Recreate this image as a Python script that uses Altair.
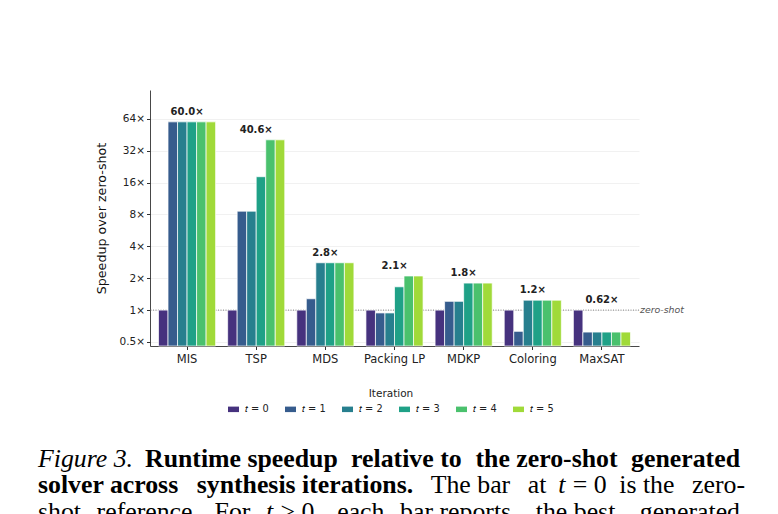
import altair as alt
import pandas as pd

TASKS = ["MIS", "TSP", "MDS", "Packing LP", "MDKP", "Coloring", "MaxSAT"]
ITERS = ["𝑡 = 0", "𝑡 = 1", "𝑡 = 2", "𝑡 = 3", "𝑡 = 4", "𝑡 = 5"]
COLORS = ["#46327e", "#365c8d", "#277f8e", "#1fa187", "#4ac16d", "#a0da39"]

# speedup over the zero-shot solver, one list per iteration (order of TASKS)
T0 = [1.0, 1.0, 1.0, 1.0, 1.0, 1.0, 1.0]
T1 = [60.0, 8.6, 1.28, 0.94, 1.21, 0.63, 0.62]
T2 = [60.0, 8.6, 2.8, 0.94, 1.21, 1.24, 0.62]
T3 = [60.0, 18.2, 2.8, 1.66, 1.8, 1.24, 0.62]
T4 = [60.0, 40.6, 2.8, 2.1, 1.8, 1.24, 0.62]
T5 = [60.0, 40.6, 2.8, 2.1, 1.8, 1.24, 0.62]
FINAL_LABELS = ["60.0×", "40.6×", "2.8×", "2.1×", "1.8×", "1.2×", "0.62×"]
Y_TICKS = [0.5, 1, 2, 4, 8, 16, 32, 64]

# caption below the figure (justified text, split into chunks)
CAP1 = ["Figure 3.", "Runtime speedup", "relative to", "the zero-shot", "generated"]
CAP2 = ["solver across", "synthesis iterations.", "The bar", "at", "t", "= 0",
        "is the", "zero-"]
CAP3 = ["shot", "reference.", "For", "t", "> 0,", "each", "bar reports",
        "the best", "generated"]

W, H = 489, 256
Y_MIN, Y_MAX = 0.458, 120

rows = []
for it, vals in zip(ITERS, [T0, T1, T2, T3, T4, T5]):
    for task, v in zip(TASKS, vals):
        rows.append({"task": task, "iter": it, "speedup": v})
bars_df = pd.DataFrame(rows)

tops = bars_df.groupby("task")["speedup"].max()
labels_df = pd.DataFrame(
    {"task": TASKS, "top": [tops[t] for t in TASKS], "label": FINAL_LABELS}
)

x_enc = alt.X(
    "task:N",
    sort=TASKS,
    scale=alt.Scale(paddingInner=0.174, paddingOuter=0.123),
    axis=alt.Axis(title=None, labelAngle=0, labelFontSize=11.5, labelPadding=4),
)
y_scale = alt.Scale(type="log", domain=[Y_MIN, Y_MAX], clamp=True)

bars = (
    alt.Chart(bars_df)
    .mark_bar(stroke="white", strokeWidth=0.7)
    .encode(
        x=x_enc,
        xOffset=alt.XOffset("iter:N", sort=ITERS, scale=alt.Scale(paddingInner=0)),
        y=alt.Y(
            "speedup:Q",
            scale=y_scale,
            axis=alt.Axis(
                title="Speedup over zero-shot",
                values=Y_TICKS,
                labelExpr="datum.value + '×'",
                labelFontSize=10.5,
                titleFontSize=12.7,
                titleFontWeight="normal",
                titlePadding=11,
                grid=True,
            ),
        ),
        y2=alt.datum(Y_MIN),
        color=alt.Color(
            "iter:N",
            sort=ITERS,
            scale=alt.Scale(domain=ITERS, range=COLORS),
            legend=alt.Legend(
                title="Iteration",
                orient="none",
                direction="horizontal",
                legendX=78,
                legendY=299,
                titleAnchor="middle",
                titleFontSize=10.5,
                titleFontWeight="normal",
                titlePadding=4,
                labelFontSize=9.8,
                symbolType="M-1,-0.5H1V0.5H-1Z",
                symbolSize=121,
                symbolStrokeWidth=0,
                symbolOpacity=1,
                columnPadding=16,
                labelOffset=6,
            ),
        ),
    )
)

zero_df = pd.DataFrame({"y": [1.0], "name": ["zero-shot"]})
zero_rule = (
    alt.Chart(zero_df)
    .mark_rule(color="#777777", strokeWidth=0.9, strokeDash=[1, 1.5])
    .encode(y=alt.Y("y:Q", scale=y_scale))
)
zero_text = (
    alt.Chart(zero_df)
    .mark_text(align="left", baseline="middle", fontStyle="italic", fontSize=9.4,
               color="#555555", dx=1)
    .encode(x=alt.value(W), y=alt.Y("y:Q", scale=y_scale), text="name:N")
)

final_labels = (
    alt.Chart(labels_df)
    .mark_text(fontWeight="bold", fontSize=10, baseline="middle", dy=-10,
               color="#222222")
    .encode(x=alt.X("task:N", sort=TASKS), y=alt.Y("top:Q", scale=y_scale),
            text="label:N")
)


def caption(txt, x, y, align="left", **style):
    return (
        alt.Chart(pd.DataFrame({"c": [txt]}))
        .mark_text(font="Liberation Serif", fontSize=25.8, align=align,
                   baseline="alphabetic", color="black", **style)
        .encode(x=alt.value(x - 150), y=alt.value(y - 90), text="c:N")
    )


# positions below are page pixels, shifted to the plot origin in caption()
L1, L2, L3 = 466.7, 493.4, 520.1
BF = {"fontWeight": "bold"}
IT = {"fontStyle": "italic"}
cap = [
    caption(CAP1[0], 38, L1, **IT),
    caption(CAP1[1], 145, L1, **BF),
    caption(CAP1[2], 351.1, L1, **BF),
    caption(CAP1[3], 475.5, L1, **BF),
    caption(CAP1[4], 740, L1, align="right", **BF),
    caption(CAP2[0], 38, L2, **BF),
    caption(CAP2[1], 196.7, L2, **BF),
    caption(CAP2[2], 430.7, L2),
    caption(CAP2[3], 527.7, L2),
    caption(CAP2[4], 558.3, L2, **IT),
    caption(CAP2[5], 572.7, L2),
    caption(CAP2[6], 619.3, L2),
    caption(CAP2[7], 745, L2, align="right"),
    caption(CAP3[0], 38, L3),
    caption(CAP3[1], 96.6, L3),
    caption(CAP3[2], 214.6, L3),
    caption(CAP3[3], 266, L3, **IT),
    caption(CAP3[4], 280.4, L3),
    caption(CAP3[5], 337.2, L3),
    caption(CAP3[6], 400.1, L3),
    caption(CAP3[7], 535.8, L3),
    caption(CAP3[8], 740, L3, align="right"),
]

chart = (
    alt.layer(zero_rule, bars, final_labels, zero_text, *cap)
    .properties(
        width=W,
        height=H,
        autosize=alt.AutoSizeParams(type="none"),
        padding={"left": 142, "top": 82, "right": 131, "bottom": 168},
    )
    .configure(font="DejaVu Sans")
    .configure_view(stroke=None)
    .configure_axis(
        domainColor="#333333",
        domainWidth=0.9,
        tickColor="#333333",
        tickSize=3.5,
        labelColor="#222222",
        titleColor="#111111",
        gridColor="#ebebeb",
        gridWidth=0.7,
    )
    .configure_axisX(grid=False)
    .configure_legend(labelColor="#222222", titleColor="#222222", padding=0)
)

chart.save("out.html", embed_options={"renderer": "svg", "actions": False})
